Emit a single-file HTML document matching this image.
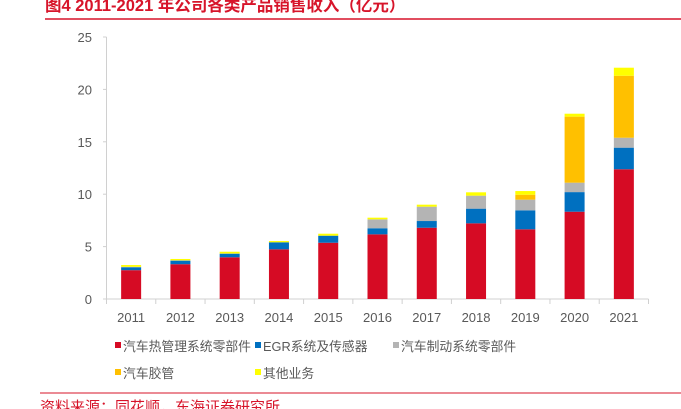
<!DOCTYPE html>
<html><head><meta charset="utf-8"><style>
body{margin:0;width:681px;height:409px;overflow:hidden;background:#fff;font-family:"Liberation Sans","Noto Sans CJK SC",sans-serif;}
#c{position:absolute;left:0;top:0}
</style></head><body>
<svg id="c" width="681" height="409" xmlns="http://www.w3.org/2000/svg">
<text x="45" y="11" font-size="16.5" font-weight="bold" fill="#d7142a" font-family="Liberation Sans,Noto Sans CJK SC,sans-serif">图4  2011-2021 年公司各类产品销售收入（亿元）</text>
<line x1="45" y1="19" x2="681" y2="19" stroke="#d7142a" stroke-width="1.5"/>
<g id="plot"></g>
<g id="legend"></g>
<line x1="40" y1="393" x2="681" y2="393" stroke="#d7142a" stroke-width="1"/>
<text x="40" y="412" font-size="15" fill="#d7142a">资料来源：同花顺，东海证券研究所</text>
</svg>
<script>
const categories=["2011","2012","2013","2014","2015","2016","2017","2018","2019","2020","2021"];
const seriesNames=["汽车热管理系统零部件","EGR系统及传感器","汽车制动系统零部件","汽车胶管","其他业务"];
const thermal=[2.75,3.32,3.98,4.74,5.37,6.17,6.8,7.22,6.65,8.33,12.38];
const egr=[0.28,0.34,0.34,0.67,0.67,0.58,0.64,1.4,1.81,1.87,2.06];
const brake=[0.04,0.03,0.02,0,0,0.85,1.37,1.24,1.02,0.9,0.95];
const hose=[0,0,0,0,0,0,0,0,0.47,6.3,5.91];
const other=[0.17,0.13,0.17,0.12,0.19,0.16,0.19,0.32,0.35,0.28,0.77];
const yTicks=[0,5,10,15,20,25];
const colors=["#d60b24","#0070c0","#b4b4b4","#ffc000","#ffff00"];
const NS="http://www.w3.org/2000/svg";
const x0=106.5,x1=648.5,y0=299,y1=37,ymax=25;
const band=(x1-x0)/categories.length;
const xc=i=>x0+band*(i+0.5);
const y=v=>y0-(v/ymax)*(y0-y1);
const plot=document.getElementById('plot');
function mk(t,a,p){const e=document.createElementNS(NS,t);for(const k in a)e.setAttribute(k,a[k]);(p||plot).appendChild(e);return e;}
yTicks.forEach(v=>{
 const t=mk('text',{x:92,y:y(v)+5,'text-anchor':'end','font-size':13,fill:'#595959'});t.textContent=v;
 
 
 const l=mk('line',{x1:103,x2:x0,y1:y(v),y2:y(v),stroke:'#d0d0d0'});
 
 
});
const ax=mk('line',{x1:x0,x2:x0,y1:y1,y2:y0,stroke:'#d0d0d0'});


const bx=mk('line',{x1:x0,x2:x1,y1:y0,y2:y0,stroke:'#d0d0d0'});


for(let i=0;i<=categories.length;i++){
 const l=mk('line',{x1:x0+band*i,x2:x0+band*i,y1:y0,y2:y0+5,stroke:'#d0d0d0'});
 
 
}
const data=[thermal,egr,brake,hose,other];
categories.forEach((c,i)=>{
 let acc=0;
 data.forEach((s,k)=>{
  const v=s[i]; if(v<=0)return;
  const r=mk('rect',{x:xc(i)-10,y:y(acc+v),width:20,height:y(acc)-y(acc+v),fill:colors[k]});
  
  
  acc+=v;
 });
 const t=mk('text',{x:xc(i),y:322,'text-anchor':'middle','font-size':13,fill:'#595959'});t.textContent=c;
 
 
});
const lg=document.getElementById('legend');
const lpos=[[115,346],[255,346],[393,346],[115,373],[255,373]];
seriesNames.forEach((n,k)=>{
 const g=mk('g',{},lg);
 
 
 mk('rect',{x:lpos[k][0],y:lpos[k][1]-4,width:6,height:6,fill:colors[k]},g);
 const t=mk('text',{x:lpos[k][0]+8,y:lpos[k][1]+5,'font-size':12.8,fill:'#595959'},g);t.textContent=n;
});
</script>
</body></html>
